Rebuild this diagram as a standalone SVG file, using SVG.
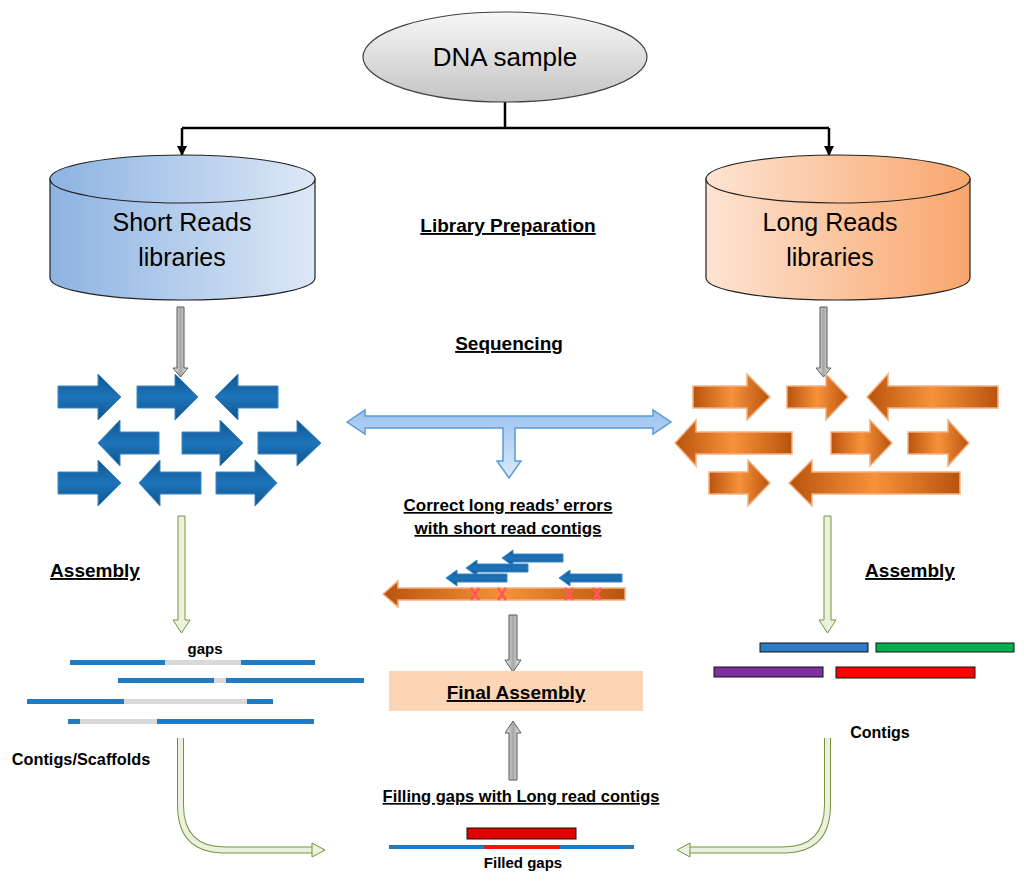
<svg xmlns="http://www.w3.org/2000/svg" width="1024" height="881" viewBox="0 0 1024 881">
<defs>
<linearGradient id="gDna" x1="0" y1="0" x2="0" y2="1"><stop offset="0" stop-color="#f7f7f7"/><stop offset="1" stop-color="#c4c4c4"/></linearGradient>
<linearGradient id="gBlueCyl" x1="0" y1="0" x2="1" y2="0"><stop offset="0" stop-color="#8db3e2"/><stop offset="1" stop-color="#dde8f6"/></linearGradient>
<linearGradient id="gOrCyl" x1="0" y1="0" x2="1" y2="0"><stop offset="0" stop-color="#fde4d2"/><stop offset="1" stop-color="#f9a66c"/></linearGradient>
<linearGradient id="gBlueArr" x1="0" y1="0" x2="0" y2="1"><stop offset="0" stop-color="#0e568f"/><stop offset="0.5" stop-color="#1e74ba"/><stop offset="1" stop-color="#0e568f"/></linearGradient>
<linearGradient id="gOrArr" x1="0" y1="0" x2="1" y2="0"><stop offset="0" stop-color="#b9530d"/><stop offset="0.5" stop-color="#f7923a"/><stop offset="1" stop-color="#b9530d"/></linearGradient>
<linearGradient id="gT" x1="0" y1="0" x2="0" y2="1"><stop offset="0" stop-color="#9cc2f0"/><stop offset="1" stop-color="#dbe9fa"/></linearGradient>
<linearGradient id="gGray" x1="0" y1="0" x2="1" y2="0"><stop offset="0" stop-color="#f2f2f2"/><stop offset="0.5" stop-color="#a6a6a6"/><stop offset="1" stop-color="#f2f2f2"/></linearGradient>
<marker id="mk" viewBox="0 0 10 10" refX="9" refY="5" markerWidth="4" markerHeight="4" orient="auto"><path d="M0,0 L10,5 L0,10 Z" fill="#000"/></marker>
</defs>
<style>
.t{font-family:"Liberation Sans",Arial,sans-serif;fill:#000;text-anchor:middle}
.b{font-weight:bold}
.big{font-size:19px}
.u{text-decoration:underline}
.cyl{font-size:25px}
.ba{fill:url(#gBlueArr);stroke:#3f86c6;stroke-width:1}
.oa{fill:url(#gOrArr);stroke:#f4b183;stroke-width:1.5}
.ga{fill:url(#gGray);stroke:#595959;stroke-width:1}
.gr{fill:#ebf1de;stroke:#77933c;stroke-width:1}
.bl{fill:#1f7bc4}
.gp{fill:#d9d9d9}
</style>

<g id="connectors">
<path d="M505,102 V128 M182,128 H829" stroke="#000" stroke-width="2.5" fill="none"/>
<line x1="182" y1="128" x2="182" y2="155" stroke="#000" stroke-width="2.5" marker-end="url(#mk)"/>
<line x1="829" y1="128" x2="829" y2="155" stroke="#000" stroke-width="2.5" marker-end="url(#mk)"/>
<polygon class="ga" points="177,307 184,307 184,368 188,368 180.5,377 173,368 177,368"/>
<polygon class="ga" points="820,307 827,307 827,368 831,368 823.5,377 816,368 820,368"/>
<polygon fill="url(#gT)" stroke="#5b9bd5" stroke-width="1.5" points="347,422 365,410 365,416 653,416 653,410 671,422 653,434 653,428 515,428 515,461 521,461 509,478 497,461 503,461 503,428 365,428 365,434"/>
<polygon class="gr" points="178,516 185,516 185,620 190,620 181.5,633 173,620 178,620"/>
<polygon class="gr" points="824,516 831,516 831,620 836,620 827.5,633 819,620 824,620"/>
<polygon class="ga" points="509,615 517,615 517,660 521,660 513,672 505,660 509,660"/>
<polygon class="ga" points="509,780 517,780 517,733 521,733 513,721 505,733 509,733"/>
<path d="M180.5,738 V805 Q180.5,850 225,850 H314" fill="none" stroke="#77933c" stroke-width="7"/>
<path d="M180.5,738 V805 Q180.5,850 225,850 H314" fill="none" stroke="#ebf1de" stroke-width="5"/>
<polygon class="gr" points="312,843 325,850 312,857"/>
<path d="M827.5,738 V805 Q827.5,850 783,850 H690" fill="none" stroke="#77933c" stroke-width="7"/>
<path d="M827.5,738 V805 Q827.5,850 783,850 H690" fill="none" stroke="#ebf1de" stroke-width="5"/>
<polygon class="gr" points="690,843 677,850 690,857"/>
</g>

<g id="dna">
<ellipse cx="505" cy="57" rx="142" ry="45" fill="url(#gDna)" stroke="#404040" stroke-width="1.2"/>
<text class="t" x="505" y="66" font-size="26">DNA sample</text>
</g>

<g id="short-cyl">
<path d="M50,179 V278 A132.5,22 0 0 0 315,278 V179 Z" fill="url(#gBlueCyl)" stroke="#222" stroke-width="1.2"/>
<ellipse cx="182.5" cy="179" rx="132.5" ry="24" fill="url(#gBlueCyl)" stroke="#222" stroke-width="1.2"/>
<text class="t cyl" x="182" y="231">Short Reads</text>
<text class="t cyl" x="182" y="266">libraries</text>
</g>

<g id="long-cyl">
<path d="M706,179 V278 A132,22 0 0 0 970,278 V179 Z" fill="url(#gOrCyl)" stroke="#222" stroke-width="1.2"/>
<ellipse cx="838" cy="179" rx="132" ry="24" fill="url(#gOrCyl)" stroke="#222" stroke-width="1.2"/>
<text class="t cyl" x="830" y="231">Long Reads</text>
<text class="t cyl" x="830" y="266">libraries</text>
</g>

<g id="labels">
<text class="t b big u" x="508" y="232">Library Preparation</text>
<text class="t b big u" x="509" y="350">Sequencing</text>
<text class="t b big u" x="95" y="577">Assembly</text>
<text class="t b big u" x="910" y="577">Assembly</text>
</g>

<g id="short-reads">
<polygon class="ba" points="58,386 98,386 98,374 121,397 98,420 98,408 58,408"/>
<polygon class="ba" points="137,386 175,386 175,374 198,397 175,420 175,408 137,408"/>
<polygon class="ba" points="278,386 238,386 238,374 215,397 238,420 238,408 278,408"/>
<polygon class="ba" points="159,432 120,432 120,420 98,443 120,466 120,454 159,454"/>
<polygon class="ba" points="182,432 220,432 220,420 243,443 220,466 220,454 182,454"/>
<polygon class="ba" points="258,432 297,432 297,420 321,443 297,466 297,454 258,454"/>
<polygon class="ba" points="58,472 98,472 98,460 121,483 98,506 98,494 58,494"/>
<polygon class="ba" points="201,472 160,472 160,460 139,483 160,506 160,494 201,494"/>
<polygon class="ba" points="216,472 255,472 255,460 277,483 255,506 255,494 216,494"/>
</g>

<g id="long-reads">
<polygon class="oa" points="693,386 747,386 747,374 770,397 747,420 747,408 693,408"/>
<polygon class="oa" points="787,386 826,386 826,374 848,397 826,420 826,408 787,408"/>
<polygon class="oa" points="998,386 888,386 888,374 867,397 888,420 888,408 998,408"/>
<polygon class="oa" points="792,432 696,432 696,420 675,443 696,466 696,454 792,454"/>
<polygon class="oa" points="831,432 870,432 870,420 892,443 870,466 870,454 831,454"/>
<polygon class="oa" points="908,432 948,432 948,420 969,443 948,466 948,454 908,454"/>
<polygon class="oa" points="709,472 748,472 748,460 770,483 748,506 748,494 709,494"/>
<polygon class="oa" points="960,472 812,472 812,460 789,483 812,506 812,494 960,494"/>
</g>

<g id="correct">
<text class="t b u" x="508" y="511" style="font-size:17px">Correct long reads’ errors</text>
<text class="t b u" x="508" y="534" style="font-size:17px">with short read contigs</text>
<polygon class="ba" points="563,554 513,554 513,550 502,558 513,566 513,562 563,562"/>
<polygon class="ba" points="528,564 477,564 477,560 466,568 477,576 477,572 528,572"/>
<polygon class="ba" points="507,574 457,574 457,570 446,578 457,586 457,582 507,582"/>
<polygon class="ba" points="622,574 570,574 570,570 559,578 570,586 570,582 622,582"/>
<polygon class="oa" points="625,588 398,588 398,581 383,594 398,607 398,600 625,600"/>
<g stroke="#ff5a5a" stroke-width="2.5">
<path d="M471,588 L479,600 M479,588 L471,600"/>
<path d="M498,588 L506,600 M506,588 L498,600"/>
<path d="M565,588 L573,600 M573,588 L565,600"/>
<path d="M593,588 L601,600 M601,588 L593,600"/>
</g>
</g>

<g id="final">
<rect x="389" y="671" width="254" height="40" fill="#fbd5b5"/>
<text class="t b big u" x="516" y="699">Final Assembly</text>
</g>

<g id="scaffolds">
<text class="t b" x="205" y="654" style="font-size:15px">gaps</text>
<rect class="bl" x="70" y="660" width="95" height="5"/><rect class="gp" x="165" y="660" width="76" height="5"/><rect class="bl" x="241" y="660" width="74" height="5"/>
<rect class="bl" x="118" y="678" width="96" height="5"/><rect class="gp" x="214" y="678" width="12" height="5"/><rect class="bl" x="226" y="678" width="138" height="5"/>
<rect class="bl" x="27" y="699" width="97" height="5"/><rect class="gp" x="124" y="699" width="123" height="5"/><rect class="bl" x="247" y="699" width="26" height="5"/>
<rect class="bl" x="68" y="719" width="12" height="5"/><rect class="gp" x="80" y="719" width="77" height="5"/><rect class="bl" x="157" y="719" width="157" height="5"/>
<text class="t b" x="81" y="765" style="font-size:16.3px">Contigs/Scaffolds</text>
</g>

<g id="contigs">
<rect x="760" y="643" width="108" height="9" fill="#2e7dc4" stroke="#111" stroke-width="1"/>
<rect x="876" y="643" width="138" height="9" fill="#00b050" stroke="#111" stroke-width="1"/>
<rect x="714" y="667" width="109" height="10" fill="#7f2fa0" stroke="#111" stroke-width="1"/>
<rect x="836" y="667" width="139" height="11" fill="#ff0000" stroke="#111" stroke-width="1"/>
<text class="t b" x="880" y="738" style="font-size:16px">Contigs</text>
</g>

<g id="filling">
<text class="t b u" x="521" y="802" style="font-size:16.5px">Filling gaps with Long read contigs</text>
<rect x="467" y="828" width="109" height="11" fill="#e00000" stroke="#111" stroke-width="1"/>
<rect x="389" y="845" width="245" height="4" fill="#1f7bc4"/>
<rect x="484" y="845" width="76" height="4" fill="#ff1010"/>
<text class="t b" x="523" y="868" style="font-size:15px">Filled gaps</text>
</g>
</svg>
